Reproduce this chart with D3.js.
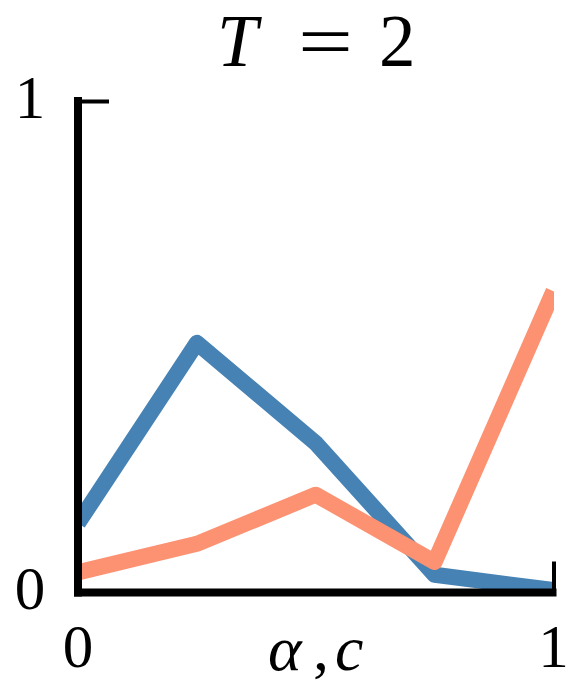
<!DOCTYPE html>
<html>
<head>
<meta charset="utf-8">
<script src="https://cdn.jsdelivr.net/npm/d3@7"></script>
<style>
  html, body { margin: 0; padding: 0; background: #fff; }
  svg { display: block; }
</style>
</head>
<body>
<svg id="chart" width="581" height="698"></svg>
<script>
// ---- data ----
const xValues = [0, 0.25, 0.5, 0.75, 1];
const blueSeries = [0.141, 0.508, 0.304, 0.036, 0.005];
const salmonSeries = [0.041, 0.099, 0.199, 0.062, 0.613];
const xTickValues = [0, 1];
const yTickValues = [0, 1];
const xTickLabels = ["0", "1"];
const yTickLabels = ["0", "1"];

(function () {
const FONT = "'Liberation Serif', 'Times New Roman', serif";
const svg = d3.select("#chart");
const pLeft = 78, pRight = 553.5, pTop = 101, pBottom = 592.5;
const x = d3.scaleLinear().domain([0, 1]).range([pLeft, pRight]);
const y = d3.scaleLinear().domain([0, 1]).range([pBottom, pTop]);

svg.append("clipPath").attr("id", "clip")
  .append("rect").attr("x", pLeft).attr("y", pTop - 20)
  .attr("width", pRight - pLeft + 0.5).attr("height", pBottom - pTop + 20);

const line = d3.line().x((d, i) => x(xValues[i])).y(d => y(d));

const g = svg.append("g").attr("clip-path", "url(#clip)");
[[blueSeries, "#4682b4"], [salmonSeries, "#fc9272"]].forEach(([s, c]) => {
  g.append("path").datum(s)
    .attr("d", line)
    .attr("fill", "none")
    .attr("stroke", c)
    .attr("stroke-width", 16)
    .attr("stroke-linejoin", "round")
    .attr("stroke-linecap", "butt");
});

// ---- axes (spines with inward ticks) ----
const yAxis = d3.axisLeft(y).tickValues(yTickValues).tickSize(-31).tickFormat("");
const xAxis = d3.axisBottom(x).tickValues(xTickValues).tickSize(-31).tickFormat("");

const ya = svg.append("g").attr("transform", `translate(${pLeft},0)`).call(yAxis);
ya.select(".domain").remove();
ya.selectAll(".tick line").attr("stroke", "#000").attr("stroke-width", 4);
ya.selectAll(".tick").filter(d => d === 0).remove();

const xa = svg.append("g").attr("transform", `translate(0,${pBottom})`).call(xAxis);
xa.select(".domain").remove();
xa.selectAll(".tick line").attr("stroke", "#000").attr("stroke-width", 4);
xa.selectAll(".tick").filter(d => d === 0).remove();

// spines
svg.append("line").attr("x1", pLeft).attr("x2", pLeft)
  .attr("y1", pTop - 4).attr("y2", pBottom + 4)
  .attr("stroke", "#000").attr("stroke-width", 8);
svg.append("line").attr("x1", pLeft - 4).attr("x2", pRight + 3)
  .attr("y1", pBottom).attr("y2", pBottom)
  .attr("stroke", "#000").attr("stroke-width", 8);

// tick labels
const fs = 61;
svg.selectAll(".ylab").data(yTickValues).enter().append("text")
  .attr("class", "ylab")
  .attr("x", 30).attr("y", d => y(d) + 16.5)
  .attr("text-anchor", "middle")
  .attr("font-family", FONT)
  .attr("font-size", fs)
  .text((d, i) => yTickLabels[i]);

svg.selectAll(".xlab").data(xTickValues).enter().append("text")
  .attr("class", "xlab")
  .attr("x", d => x(d)).attr("y", 667)
  .attr("text-anchor", "middle")
  .attr("font-family", FONT)
  .attr("font-size", fs)
  .text((d, i) => xTickLabels[i]);

// x axis label: α, c
const xl = svg.append("text").attr("y", 670).attr("font-size", 64).attr("font-family", FONT);
xl.append("tspan").attr("x", 268).attr("font-style", "italic").text("α");
xl.append("tspan").attr("x", 313).text(",");
xl.append("tspan").attr("x", 335).attr("font-style", "italic").text("c");

// title: T = 2
const tf = 73;
svg.append("text").attr("x", 217).attr("y", 66).attr("font-size", tf)
  .attr("font-family", FONT).attr("font-style", "italic").text("T");
svg.append("text").attr("x", 298).attr("y", 66).attr("font-size", tf)
  .attr("font-family", FONT)
  .attr("textLength", 55).attr("lengthAdjust", "spacingAndGlyphs").text("=");
svg.append("text").attr("x", 379).attr("y", 66).attr("font-size", tf)
  .attr("font-family", FONT).text("2");
})();
</script>
</body>
</html>
